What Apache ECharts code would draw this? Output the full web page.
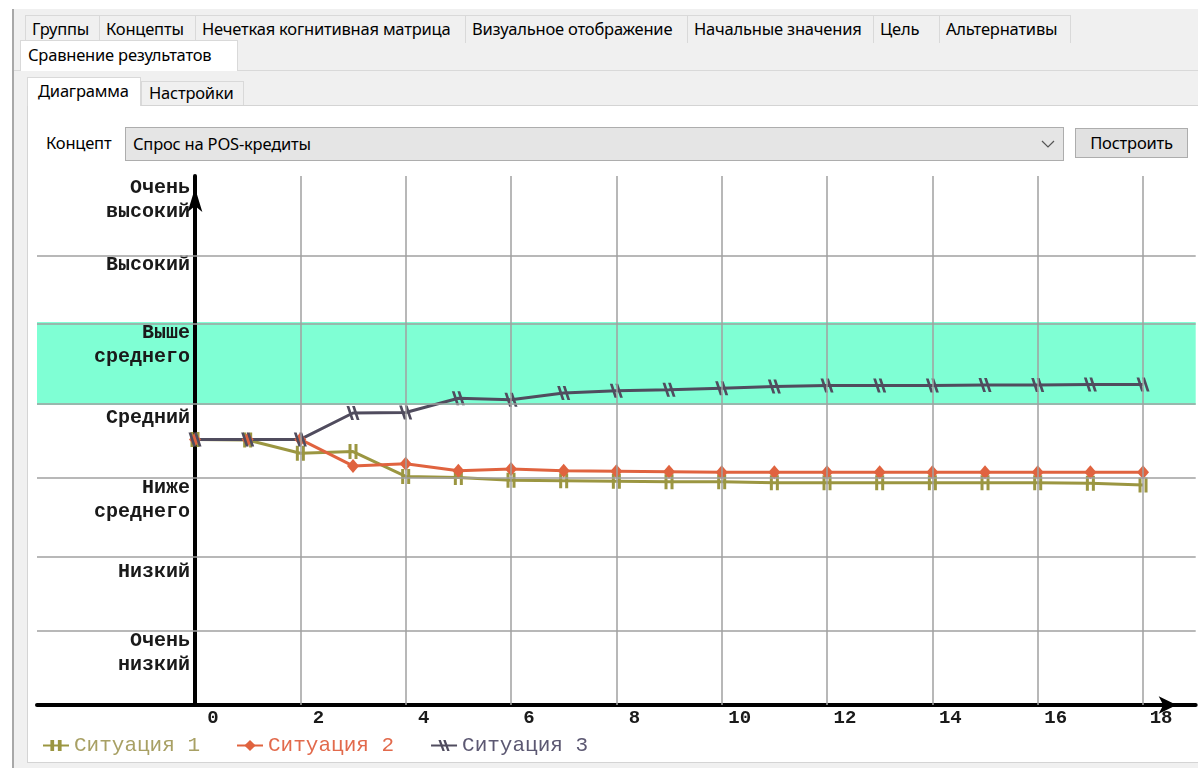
<!DOCTYPE html>
<html>
<head>
<meta charset="utf-8">
<script src="https://cdn.jsdelivr.net/npm/echarts@6/dist/echarts.min.js"></script>
<style>
html,body{margin:0;padding:0;width:1198px;height:768px;overflow:hidden;background:#fff;
  font-family:"Noto Sans","Open Sans",sans-serif;font-size:16.5px;color:#000}
.abs{position:absolute;box-sizing:border-box}
.tab{position:absolute;box-sizing:border-box;top:15px;height:28px;border:1px solid #d9d9d9;border-bottom:none;
  background:#f0f0f0;line-height:26px;padding-left:6px;white-space:nowrap;font-size:16.5px;letter-spacing:-0.2px}
#chart{position:absolute;left:0;top:0;width:1198px;height:768px;z-index:5}
</style>
</head>
<body>
<!-- window chrome -->
<div class="abs" style="left:12px;top:9px;width:1186px;height:759px;background:#f0f0f0;border-left:2px solid #a8a8a8;"></div>
<div class="tab" style="left:25px;width:75px;">Группы</div>
<div class="tab" style="left:99px;width:97px;">Концепты</div>
<div class="tab" style="left:195px;width:271px;">Нечеткая когнитивная матрица</div>
<div class="tab" style="left:465px;width:223px;">Визуальное отображение</div>
<div class="tab" style="left:687px;width:187px;">Начальные значения</div>
<div class="tab" style="left:873px;width:67px;">Цель</div>
<div class="tab" style="left:939px;width:132px;">Альтернативы</div>
<div class="abs" style="left:14px;top:70px;width:1184px;height:1px;background:#d9d9d9;"></div>
<div class="tab" style="left:20px;top:40px;width:218px;height:31px;background:#fff;line-height:28px;padding-left:7px;z-index:1">Сравнение результатов</div>
<!-- inner tab control -->
<div class="abs" style="left:27px;top:105px;width:1171px;height:658px;background:#fff;border:1px solid #d4d4d4;border-right:none;"></div>
<div class="tab" style="left:27px;top:77px;width:114px;height:29px;background:#fff;line-height:26px;padding-left:10px;z-index:1">Диаграмма</div>
<div class="tab" style="left:141px;top:81px;width:103px;height:24px;line-height:22px;padding-left:7px;">Настройки</div>
<div class="abs" style="left:46px;top:131px;font-size:16.5px;letter-spacing:-0.2px">Концепт</div>
<div class="abs" style="left:125px;top:127px;width:939px;height:34px;background:#e5e5e5;border:1px solid #adadad;padding-left:7px;line-height:31px;font-size:16.5px;letter-spacing:-0.2px">Спрос на POS-кредиты
  <svg style="position:absolute;right:8px;top:12px" width="14" height="9"><polyline points="1,1 7,7 13,1" fill="none" stroke="#555" stroke-width="1.2"/></svg>
</div>
<div class="abs" style="left:1075px;top:128px;width:113px;height:30px;background:#e1e1e1;border:1px solid #adadad;text-align:center;line-height:27px;font-size:16.5px;letter-spacing:-0.2px">Построить</div>

<div id="chart"></div>
<script>
// ---- data ----
const xValues = [0,1,2,3,4,5,6,7,8,9,10,11,12,13,14,15,16,17,18];
const seriesNames = ['Ситуация 1','Ситуация 2','Ситуация 3'];
const situation1 = [0.502,0.501,0.476,0.479,0.432,0.430,0.425,0.424,0.423,0.422,0.422,0.420,0.420,0.420,0.420,0.420,0.420,0.419,0.416];
const situation2 = [0.502,0.502,0.502,0.452,0.456,0.443,0.446,0.443,0.442,0.441,0.440,0.440,0.440,0.440,0.440,0.440,0.440,0.440,0.440];
const situation3 = [0.502,0.502,0.502,0.552,0.553,0.580,0.577,0.590,0.594,0.596,0.599,0.602,0.604,0.604,0.604,0.605,0.605,0.606,0.606];
const levelLabels = ['Очень\nвысокий','Высокий','Выше\nсреднего','Средний','Ниже\nсреднего','Низкий','Очень\nнизкий'];
const levelLabelPos = [0.955,0.832,0.681,0.5435,0.3875,0.2514,0.098];
const levelBounds = [0.8545,0.724,0.5671,0.431,0.2779,0.1437];
const targetBand = [0.5671,0.724];
const xTickLabels = [0,2,4,6,8,10,12,14,16,18];
const xGridLines = [2,4,6,8,10,12,14,16,18];
const xMin = -3, xMax = 19;

// ---- styles ----
const colors = ['#9b9641','#e0633f','#504c5e'];
const textColors = ['#a8a064','#e26a4c','#5c5872'];
const mono = '"Courier New","Liberation Mono",monospace';
const symbols = [
  'path://M0,0H3V14H0Z M6,0H9V14H6Z',
  'diamond',
  'path://M0,0L3,0L8,14L5,14Z M6,0L9,0L14,14L11,14Z'
];
const symbolSizes = [[9,15],[12,14],[13,14]];
const gridLeft = 37, gridRight = 2.3;

function pair(xs, ys){ return xs.map((x,i)=>[x, ys[i]]); }
function levelFor(v){
  let best = 0, d = Infinity;
  levelLabelPos.forEach((p,i)=>{ if (Math.abs(p-v) < d){ d = Math.abs(p-v); best = i; } });
  return levelLabels[best];
}

const chart = echarts.init(document.getElementById('chart'), null, {renderer:'canvas'});
// y axis sits on x = 0: offset it from the grid's left edge by the scale's own distance
const plotW = 1198 - gridLeft - gridRight;
const yAxisOffset = -(0 - xMin) / (xMax - xMin) * plotW;

const dataSeries = [situation1, situation2, situation3].map((ys,i)=>({
  name: seriesNames[i],
  type: 'line',
  z: 3,
  data: pair(xValues, ys),
  symbol: symbols[i],
  symbolSize: symbolSizes[i],
  symbolKeepAspect: false,
  showSymbol: true,
  lineStyle: {color: colors[i], width: 3},
  itemStyle: {color: colors[i]},
  emphasis: {disabled: true}
}));

chart.setOption({
  animation: false,
  backgroundColor: 'transparent',
  grid: {left: gridLeft, right: gridRight, top: 176, bottom: 63, containLabel: false, outerBoundsMode: 'none'},
  xAxis: {
    type: 'value', min: xMin, max: xMax, interval: 1, z: 2,
    axisLine: {show: true, onZero: false, symbol: ['none','arrow'], symbolSize: [13,18], symbolOffset: [0,-19],
      lineStyle: {color: '#000', width: 4}},
    axisTick: {show: false},
    splitLine: {show: false},
    axisLabel: {
      formatter: v => xTickLabels.indexOf(v) >= 0 ? String(v) : '',
      fontFamily: mono, fontWeight: 'bold', fontSize: 19, color: '#1a1a1a',
      margin: 4, padding: [0,0,0,36]
    }
  },
  yAxis: {
    type: 'value', min: 0, max: 1, z: 2,
    offset: yAxisOffset,
    axisLine: {show: true, onZero: false, symbol: ['none','arrow'], symbolSize: [11,24], symbolOffset: [0,-12],
      lineStyle: {color: '#000', width: 4}},
    axisTick: {show: false},
    splitLine: {show: false},
    axisLabel: {
      customValues: levelLabelPos,
      formatter: v => levelFor(v),
      fontFamily: mono, fontWeight: 'bold', fontSize: 20, lineHeight: 24, color: '#1a1a1a',
      margin: 5, align: 'right'
    }
  },
  legend: {
    left: 37, top: 730, itemWidth: 26, itemHeight: 14, itemGap: 36,
    textStyle: {fontFamily: mono, fontSize: 21},
    selectedMode: false,
    data: seriesNames.map((n,i)=>({name: n, textStyle: {color: textColors[i]}}))
  },
  series: [
    {
      name: 'grid', type: 'line', z: 0, data: [], silent: true,
      markArea: {
        silent: true,
        itemStyle: {color: '#7fffd4'},
        data: [[{yAxis: targetBand[0]}, {yAxis: targetBand[1]}]]
      },
      markLine: {
        silent: true, symbol: ['none','none'], label: {show: false},
        lineStyle: {color: '#a0a0a0', width: 1.5, type: 'solid'},
        emphasis: {disabled: true},
        data: levelBounds.map(v=>({yAxis: v})).concat(xGridLines.map(v=>({xAxis: v})))
      }
    }
  ].concat(dataSeries)
});
</script>
</body>
</html>
